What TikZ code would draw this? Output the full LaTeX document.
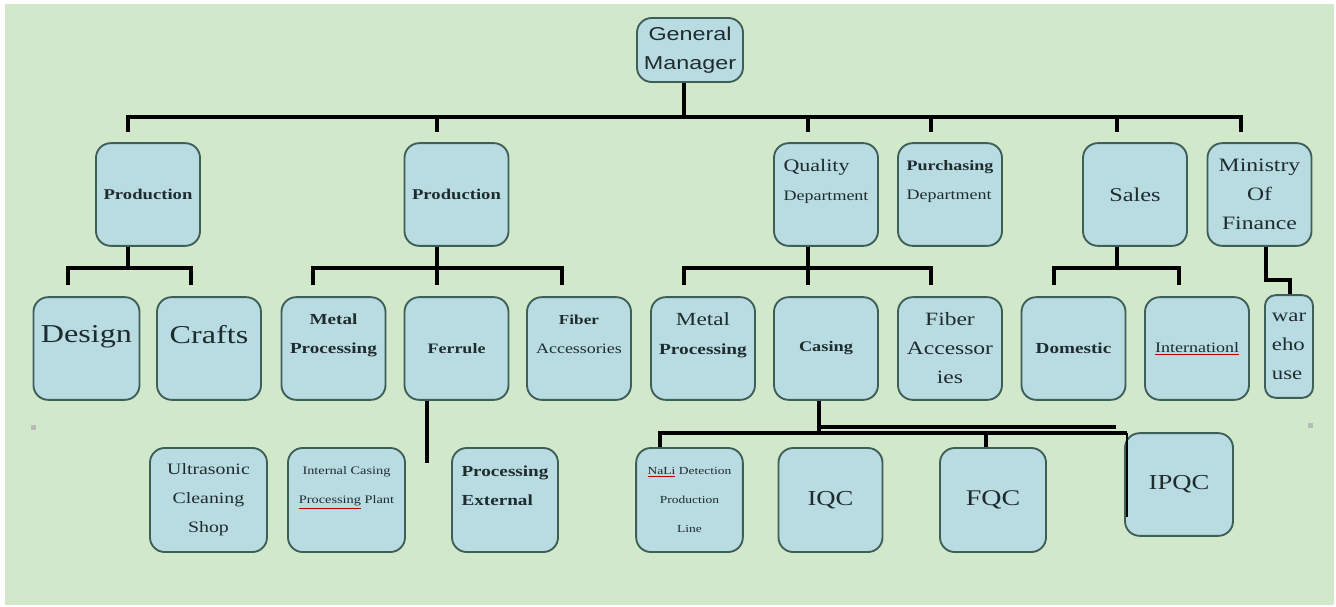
\documentclass[tikz,border=0pt]{standalone}
\usepackage{fontspec}
\setmainfont{Liberation Serif}[FakeStretch=1.25]
\newfontfamily\gmfont{Liberation Sans}[FakeStretch=1.25]
\usetikzlibrary{positioning}
\definecolor{bgGreen}{HTML}{D2E8CB}
\definecolor{boxBlue}{HTML}{B9DCE3}
\definecolor{boxLine}{HTML}{3E5E58}
\definecolor{txtDark}{HTML}{1E2C2E}
\newcommand{\fsz}[1]{\fontsize{#1}{21.75}\selectfont}
\newcommand{\redul}[1]{{\color{red!75!black}\underline{\color{txtDark}#1}}}
\tikzset{
  orgbox/.style={draw=boxLine, line width=1.4pt, fill=boxBlue, rounded corners=11pt,
    inner sep=0pt, text=txtDark, align=center, minimum width=78pt, minimum height=77pt},
  bus/.style={line width=3.6pt, black},
}
\begin{document}
\begin{tikzpicture}[x=0.75pt,y=0.75pt,yscale=-1,xscale=1]
            \useasboundingbox (0,0) rectangle (1336,607);
            %Shape: Rectangle (page)
            \fill [white] (0,0) rectangle (1336,607);
            \fill [bgGreen] (5,4) rectangle (1334,605);
            %Shape: small markers
            \fill [gray!55] (31,425) rectangle (36,430);
            \fill [gray!55] (1308,423) rectangle (1313,428);

            %Shape: Rounded Rect (top)
            \node [orgbox, minimum width=79.5pt, minimum height=48pt, font=\gmfont\fsz{14}] (gm) at (690,50) {General\\Manager};

            %Shape: Rounded Rect (first row)
            \node [orgbox, font=\bfseries\fsz{11.2}] (prodA) at (148,194.5) {Production};
            \node [orgbox, font=\bfseries\fsz{11.2}] (prodB) at (456.5,194.5) {Production};
            \node [orgbox, align=left, font=\fsz{13.2}] (qual) at (826,194.5) {Quality\\{\fsz{10.8}Department}\\\mbox{}};
            \node [orgbox, align=left, font=\fsz{10.8}] (purch) at (950,194.5) {{\bfseries Purchasing}\\Department\\\mbox{}};
            \node [orgbox, font=\fsz{14.6}] (sales) at (1135,194.5) {Sales};
            \node [orgbox, font=\fsz{14.2}] (minfin) at (1259.5,194.5) {Ministry\\Of\\Finance};

            %Shape: Rounded Rect (second row)
            \node [orgbox, minimum width=79.5pt, align=left, font=\fsz{19.3}] (design) at (86.5,348.5) {Design\\\mbox{}};
            \node [orgbox, align=left, font=\fsz{19.3}] (crafts) at (209,348.5) {Crafts\\\mbox{}};
            \node [orgbox, font=\bfseries\fsz{11.5}] (metalA) at (333.5,348.5) {Metal\\Processing\\\mbox{}};
            \node [orgbox, font=\bfseries\fsz{10.8}] (ferrule) at (456.5,348.5) {Ferrule};
            \node [orgbox, font=\fsz{10.8}] (fiberA) at (579,348.5) {{\bfseries\fsz{10.3}Fiber}\\Accessories\\\mbox{}};
            \node [orgbox, font=\fsz{13.9}] (metalB) at (703,348.5) {Metal\\{\bfseries\fsz{11.6}Processing}\\\mbox{}};
            \node [orgbox, font=\bfseries\fsz{11}] (casing) at (826,348.5) {Casing};
            \node [orgbox, font=\fsz{14.1}] (fiberB) at (950,348.5) {Fiber\\Accessor\\ies};
            \node [orgbox, font=\bfseries\fsz{11.5}] (domestic) at (1073.5,348.5) {Domestic};
            \node [orgbox, font=\fsz{10.8}] (intl) at (1197,348.5) {\redul{Internationl}};
            \node [orgbox, minimum width=36pt, rounded corners=8pt, align=left, font=\fsz{13.7}] (warehouse) at (1289,346.5) {war\\eho\\use};

            %Shape: Rounded Rect (third row)
            \node [orgbox, minimum width=87.75pt, minimum height=78pt, font=\fsz{11.9}] (ultra) at (208.5,500) {Ultrasonic\\Cleaning\\Shop};
            \node [orgbox, minimum width=87.75pt, minimum height=78pt, font=\fsz{8.6}] (internal) at (346.5,500) {Internal Casing\\\redul{Processing} Plant\\\mbox{}};
            \node [orgbox, minimum width=79.5pt, minimum height=78pt, align=left, font=\bfseries\fsz{11.5}] (external) at (505,500) {Processing\\External\\\mbox{}};
            \node [orgbox, minimum width=80pt, minimum height=78pt, font=\fsz{8.1}] (nali) at (689.5,500) {\redul{NaLi} Detection\\Production\\Line};
            \node [orgbox, minimum height=78pt, font=\fsz{16}] (iqc) at (830.5,500) {IQC};
            \node [orgbox, minimum width=79.5pt, minimum height=78pt, font=\fsz{16.8}] (fqc) at (993,500) {FQC};
            \node [orgbox, minimum width=81pt, font=\fsz{16}] (ipqc) at (1179,484.5) {IPQC};

            %Straight Lines (general manager)
            \coordinate (gmBus) at (684,117);
            \draw [bus] (gm.south -| gmBus) -- (gmBus);
            \draw [bus] (128,132) -- (128,117) -- (1241,117) -- (1241,132);
            \foreach \x in {437,808,931,1117}
              \draw [bus] (\x,117) -- (\x,132);

            %Straight Lines (production)
            \coordinate (prodAbus) at (128,268);
            \draw [bus] (prodA.south -| prodAbus) -- (prodAbus);
            \draw [bus] (68,285) |- (191,268) -- (191,285);
            \coordinate (prodBend) at (437,285);
            \draw [bus] (prodB.south -| prodBend) -- (prodBend);
            \draw [bus] (313,285) |- (562,268) -- (562,285);

            %Straight Lines (quality)
            \coordinate (qualEnd) at (808,285);
            \draw [bus] (qual.south -| qualEnd) -- (qualEnd);
            \draw [bus] (684,285) |- (931,268) -- (931,285);

            %Straight Lines (sales)
            \coordinate (salesBus) at (1117,268);
            \draw [bus] (sales.south -| salesBus) -- (salesBus);
            \draw [bus] (1054,285) |- (1179,268) -- (1179,285);

            %Straight Lines (finance)
            \coordinate (mfA) at (1266,280);
            \coordinate (mfB) at (1290,280);
            \draw [bus] (minfin.south -| mfA) -- (mfA) -- (mfB) -- (warehouse.north -| mfB);

            %Straight Lines (ferrule)
            \coordinate (ferEnd) at (427,463);
            \draw [bus] (ferrule.south -| ferEnd) -- (ferEnd);

            %Straight Lines (casing)
            \coordinate (casJ) at (819,433);
            \coordinate (casR) at (1127,433);
            \draw [bus] (casing.south -| casJ) -- (casJ);
            \draw [bus, line width=3pt] (819,427) -- (1116,427);
            \draw [bus, line width=3pt] (nali.north -| 660,0) -- (660,433) -- (casR);
            \draw [bus, line width=3pt] (986,433) -- (fqc.north -| 986,0);
            \draw [bus, line width=2.2pt] (casR) -- (1127,517);
\end{tikzpicture}
\end{document}
